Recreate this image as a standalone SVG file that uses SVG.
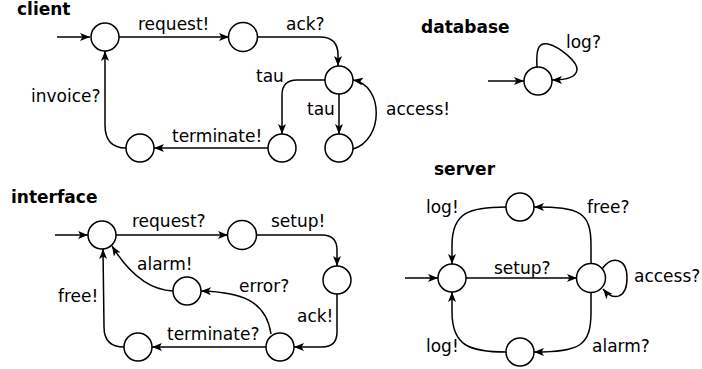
<svg xmlns="http://www.w3.org/2000/svg" width="702" height="369" viewBox="0 0 702 369">
<style>
  .st { fill: #fff; stroke: #000; stroke-width: 1.5; }
  .ed { fill: none; stroke: #000; stroke-width: 1.5; marker-end: url(#ah); }
  .lb { font-family: "DejaVu Sans", sans-serif; font-size: 17px; fill: #000; }
  .tt { font-family: "DejaVu Sans", sans-serif; font-size: 17px; font-weight: bold; fill: #000; }
</style>
<defs>
  <marker id="ah" viewBox="0 0 10 8" refX="10" refY="4" markerWidth="10" markerHeight="8" markerUnits="userSpaceOnUse" orient="auto">
    <path d="M0,0 L10,4 L0,8 L2.5,4 z" fill="#000"/>
  </marker>
</defs>
<rect width="702" height="369" fill="#fff"/>

<g id="titles">
  <text class="tt" x="17" y="15">client</text>
  <text class="tt" x="421" y="33">database</text>
  <text class="tt" x="11" y="203">interface</text>
  <text class="tt" x="434" y="175">server</text>
</g>

<g id="connectors">
  <!-- client -->
  <path class="ed" d="M57,37 L90,37"/>
  <path class="ed" d="M119,37 L229,37"/>
  <path class="ed" d="M258,37 L320,37 Q338,37 338,55 L338,66"/>
  <path class="ed" d="M325,80 L297,80 Q282,80 282,95 L282,134"/>
  <path class="ed" d="M339,94 L339,134"/>
  <path class="ed" d="M353,149 C384,140 384,85 353,80"/>
  <path class="ed" d="M268,148 L154,148"/>
  <path class="ed" d="M126,148 Q105,148 105,125 L105,51"/>
  <!-- database -->
  <path class="ed" d="M488,81 L524,81"/>
  <path class="ed" d="M537,67 C536,50 538,42 548,44 C560,47 578,62 577,70 C576,78 565,80 552,80"/>
  <!-- interface -->
  <path class="ed" d="M55,235 L88,235"/>
  <path class="ed" d="M116,235 L228,235"/>
  <path class="ed" d="M256,235 L322,235 Q337,235 337,250 L337,266"/>
  <path class="ed" d="M337,294 L337,332 Q337,347 322,347 L294,347"/>
  <path class="ed" d="M266,347 L152,347"/>
  <path class="ed" d="M271,334 C266,300 240,292 201,291"/>
  <path class="ed" d="M173,291 C150,290 130,275 112,246"/>
  <path class="ed" d="M124,347 Q104,347 104,327 L103,249"/>
  <!-- server -->
  <path class="ed" d="M405,278 L438,278"/>
  <path class="ed" d="M466,278 L577,278"/>
  <path class="ed" d="M591,264 L591,245 C591,212 580,207 534,207"/>
  <path class="ed" d="M506,207 C470,207 452,212 452,245 L452,264"/>
  <path class="ed" d="M591,292 L591,312 C591,346 580,352 534,352"/>
  <path class="ed" d="M506,352 C470,352 452,346 452,312 L452,292"/>
  <path class="ed" d="M602,269 C612,255 627,258 627,278 C627,298 614,302 603,289"/>
</g>

<g id="labels">
  <text class="lb" x="138" y="30">request!</text>
  <text class="lb" x="286" y="30">ack?</text>
  <text class="lb" x="256" y="82">tau</text>
  <text class="lb" x="307" y="115">tau</text>
  <text class="lb" x="386" y="115">access!</text>
  <text class="lb" x="172" y="142">terminate!</text>
  <text class="lb" x="31" y="102">invoice?</text>
  <text class="lb" x="566" y="48">log?</text>
  <text class="lb" x="132" y="227">request?</text>
  <text class="lb" x="271" y="227">setup!</text>
  <text class="lb" x="137" y="270">alarm!</text>
  <text class="lb" x="239" y="292">error?</text>
  <text class="lb" x="297" y="322">ack!</text>
  <text class="lb" x="58" y="302">free!</text>
  <text class="lb" x="167" y="340">terminate?</text>
  <text class="lb" x="426" y="213">log!</text>
  <text class="lb" x="587" y="213">free?</text>
  <text class="lb" x="494" y="274">setup?</text>
  <text class="lb" x="634" y="282">access?</text>
  <text class="lb" x="426" y="352">log!</text>
  <text class="lb" x="592" y="352">alarm?</text>
</g>

<g id="client-s0"><circle class="st" cx="105" cy="37" r="14"/></g>
<g id="client-s1"><circle class="st" cx="243" cy="37" r="14.5"/></g>
<g id="client-s2"><circle class="st" cx="339" cy="80" r="14"/></g>
<g id="client-s3"><circle class="st" cx="282" cy="148" r="14"/></g>
<g id="client-s4"><circle class="st" cx="339" cy="148" r="14"/></g>
<g id="client-s5"><circle class="st" cx="140" cy="148" r="14"/></g>

<g id="database-s0"><circle class="st" cx="538" cy="81" r="14"/></g>

<g id="interface-s0"><circle class="st" cx="102" cy="235" r="14"/></g>
<g id="interface-s1"><circle class="st" cx="242" cy="235" r="14.5"/></g>
<g id="interface-s2"><circle class="st" cx="337" cy="280" r="14"/></g>
<g id="interface-s3"><circle class="st" cx="187" cy="291" r="14"/></g>
<g id="interface-s4"><circle class="st" cx="138" cy="347" r="14"/></g>
<g id="interface-s5"><circle class="st" cx="280" cy="347" r="14"/></g>

<g id="server-s0"><circle class="st" cx="452" cy="278" r="14"/></g>
<g id="server-s1"><circle class="st" cx="591" cy="278" r="14.5"/></g>
<g id="server-s2"><circle class="st" cx="520" cy="207" r="14"/></g>
<g id="server-s3"><circle class="st" cx="520" cy="352" r="14"/></g>
</svg>
